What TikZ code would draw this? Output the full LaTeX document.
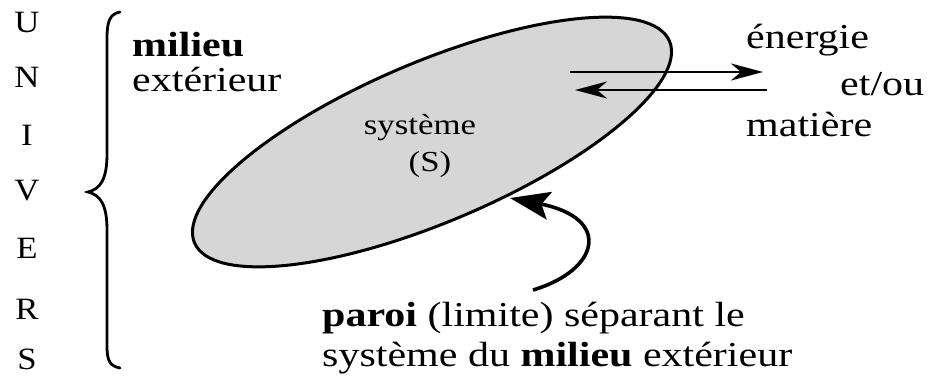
\documentclass[tikz,border=0pt]{standalone}
\usepackage{fontspec}
\setmainfont{Liberation Serif}
\usetikzlibrary{arrows.meta}
\newcommand{\hx}[1]{\scalebox{1.2}[1]{#1}}

\begin{document}
\begin{tikzpicture}[x=1pt, y=1pt,
            univ/.style={font=\fontsize{31}{34}\selectfont, inner sep=0pt, anchor=base},
            lbl/.style={font=\fontsize{35}{40}\selectfont, inner sep=0pt, anchor=west},
            sys/.style={font=\fontsize{29}{32}\selectfont, inner sep=0pt},
            wall/.style={draw=black, line width=3pt, fill=black!16},
            arr/.style={draw=black, line width=2.7pt, -{Stealth[length=32pt, width=17pt, inset=10pt]}},
            curv/.style={draw=black, line width=3.6pt, -{Stealth[length=40pt, width=28pt, inset=8pt]}}]
            \fill[white] (0,0) rectangle (928,376);
            \useasboundingbox (0,0) rectangle (928,376);
            \foreach \c/\y in {U/344, N/289, I/231, V/176, E/118, R/57, S/7} {
                \node[univ] (\c) at (27,\y) {\scalebox{1.12}[1]{\c}};
            }
            \draw[line width=2.8pt, line cap=round] (120,364) .. controls (110,362) and (107,355) .. (107,338)
                -- (107,222) .. controls (107,196) and (100,187) .. (88,184)
                .. controls (100,181) and (107,172) .. (107,146)
                -- (107,30) .. controls (107,15) and (110,10) .. (120,8);
            \node[lbl] (mil) at (132,331) {\hx{\textbf{milieu}}};
            \node[lbl] (ext) at (132,296) {\hx{extérieur}};
            \coordinate (c) at (432,234);
            \draw[wall, rotate around={23:(c)}] (c) ellipse (258 and 80);
            \node[sys] (syst) at (420,248) {\hx{système}};
            \node[sys] (s) at (430,211) {\hx{(S)}};
            \coordinate (eo) at (570,304);
            \coordinate (ee) at (763,304);
            \coordinate (mo) at (767,286);
            \coordinate (me) at (575,286);
            \draw[arr] (eo) -- (ee);
            \draw[arr] (mo) -- (me);
            \node[lbl] (en) at (746,336) {\hx{énergie}};
            \node[lbl] (et) at (840,292) {\hx{et/ou}};
            \node[lbl] (ma) at (746,251) {\hx{matière}};
            \node[lbl] (paroi) at (322,58) {\hx{\textbf{paroi} (limite) séparant le}};
            \node[lbl] (du) at (322,18) {\hx{système du \textbf{milieu} extérieur}};
            \coordinate (pt) at (533,86);
            \coordinate (pw) at (510,178);
            \draw[curv] (pt) .. controls (600,106) and (612,158) .. (pw);
        \end{tikzpicture}
\end{document}
